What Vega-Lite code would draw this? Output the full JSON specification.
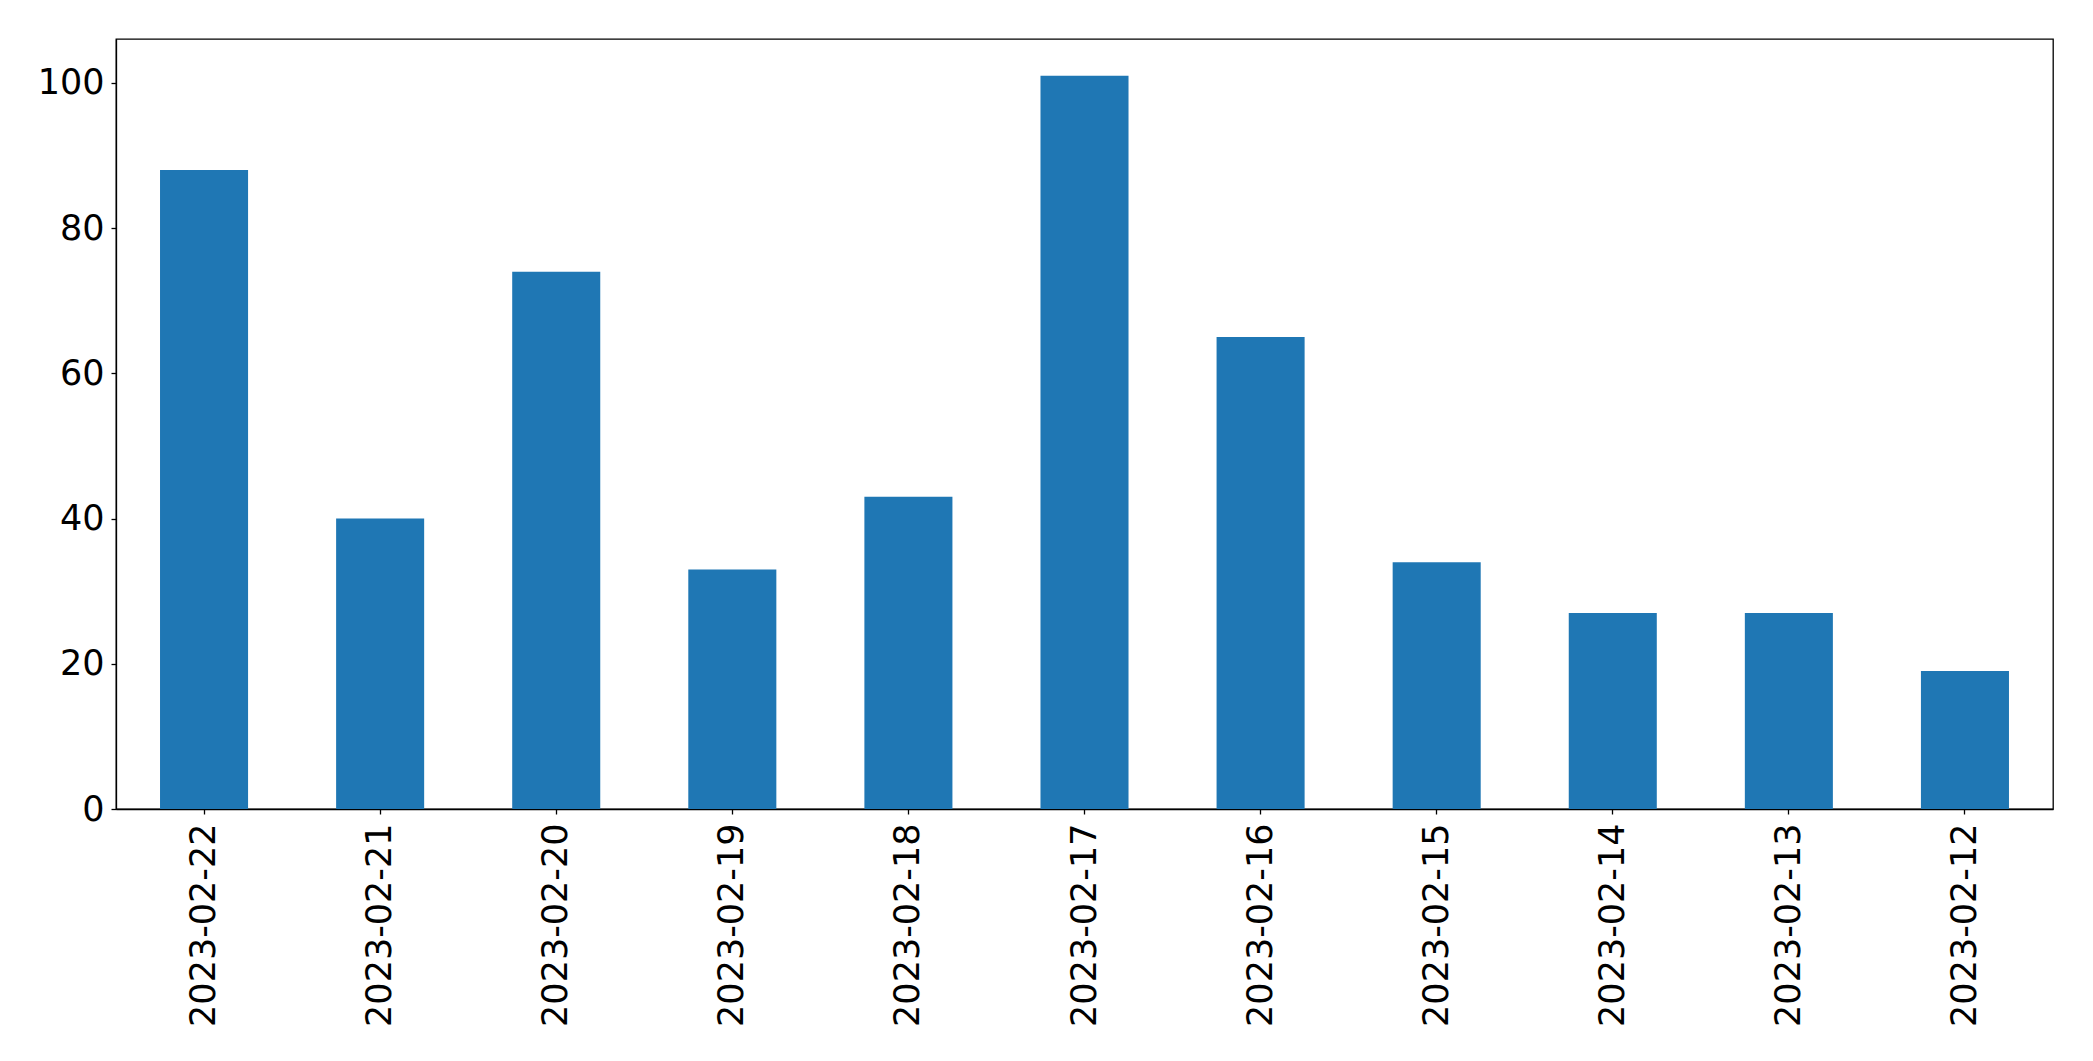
{
  "$schema": "https://vega.github.io/schema/vega-lite/v6.json",
  "width": 1937,
  "height": 770,
  "autosize": {"type": "none"},
  "padding": {"left": 116, "top": 39, "right": 40, "bottom": 252},
  "background": "white",
  "config": {
    "view": {"stroke": "black", "strokeWidth": 1.3},
    "font": "DejaVu Sans"
  },
  "data": {
    "values": [
      {"date": "2023-02-22", "count": 88},
      {"date": "2023-02-21", "count": 40},
      {"date": "2023-02-20", "count": 74},
      {"date": "2023-02-19", "count": 33},
      {"date": "2023-02-18", "count": 43},
      {"date": "2023-02-17", "count": 101},
      {"date": "2023-02-16", "count": 65},
      {"date": "2023-02-15", "count": 34},
      {"date": "2023-02-14", "count": 27},
      {"date": "2023-02-13", "count": 27},
      {"date": "2023-02-12", "count": 19}
    ]
  },
  "mark": {"type": "bar", "color": "#1f77b4"},
  "encoding": {
    "x": {
      "field": "date",
      "type": "nominal",
      "sort": null,
      "scale": {"paddingInner": 0.5, "paddingOuter": 0.25},
      "axis": {
        "title": null,
        "labelAngle": -90,
        "labelLimit": 0,
        "labelFont": "DejaVu Sans",
        "labelFontSize": 35,
        "labelColor": "black",
        "labelPadding": 9,
        "tickColor": "black",
        "tickSize": 5,
        "tickWidth": 1.3,
        "domainColor": "black",
        "domainWidth": 1.3,
        "grid": false
      }
    },
    "y": {
      "field": "count",
      "type": "quantitative",
      "scale": {"domain": [0, 106.05], "nice": false, "zero": true},
      "axis": {
        "title": null,
        "values": [0, 20, 40, 60, 80, 100],
        "labelFont": "DejaVu Sans",
        "labelFontSize": 35,
        "labelColor": "black",
        "labelPadding": 7,
        "tickColor": "black",
        "tickSize": 5,
        "tickWidth": 1.3,
        "domainColor": "black",
        "domainWidth": 1.3,
        "grid": false
      }
    }
  }
}
